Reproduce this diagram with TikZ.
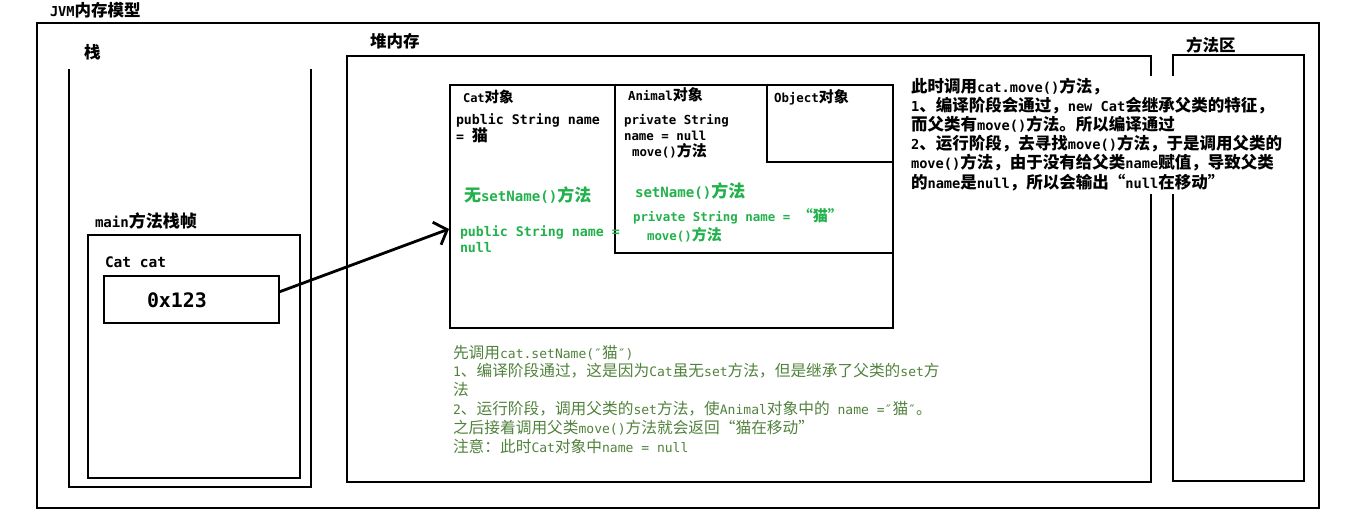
\documentclass[tikz,border=0pt]{standalone}
\usepackage{fontspec}
\setmainfont{DejaVu Sans Mono}[Scale=0.83]
\newfontfamily\cjk{Noto Sans CJK SC}
\usetikzlibrary{arrows.meta}
% automatic switching to the CJK family for CJK characters
\newXeTeXintercharclass\cjkclass
\count255="3000
\loop\XeTeXcharclass\count255=\cjkclass\advance\count255 by 1\relax\ifnum\count255<"A000\repeat
\count255="FF00
\loop\XeTeXcharclass\count255=\cjkclass\advance\count255 by 1\relax\ifnum\count255<"FFF0\repeat
\XeTeXcharclass"201C=\cjkclass
\XeTeXcharclass"201D=\cjkclass
\XeTeXinterchartoks 0 \cjkclass = {\cjk}
\XeTeXinterchartoks 4095 \cjkclass = {\cjk}
\XeTeXinterchartoks \cjkclass 0 = {\rmfamily}
\XeTeXinterchartoks \cjkclass 4095 = {\rmfamily}
\newcommand\fs[2]{\fontsize{#1}{#2}\selectfont}
\definecolor{boxgreen}{RGB}{34,177,76}
\definecolor{notegreen}{RGB}{80,130,60}
\tikzset{
  box/.style={draw, line width=2.8pt, inner sep=0pt, outer sep=0pt, anchor=north west},
  txt/.style={inner sep=0pt, outer sep=0pt, anchor=base west, align=left},
  blk/.style={txt, font=\bfseries\fs{#1}{#1}},
  grn/.style={txt, text=boxgreen, font=\bfseries\fs{#1}{#1}},
}
\begin{document}
\begin{tikzpicture}[x=1pt,y=-1pt]
\XeTeXinterchartokenstate=1
\useasboundingbox (0,0) rectangle (1352,531);
% containers
\node[box, minimum width=1282pt, minimum height=485pt] (jvm) at (37,23) {};
\draw[line width=2.8pt] (69,69) -- (69,487) -- (311,487) -- (311,69);
\node[box, minimum width=212pt, minimum height=243pt] (frame) at (88,235) {};
\node[box, minimum width=175pt, minimum height=47pt] (var) at (104,276) {};
\node[box, minimum width=804pt, minimum height=426pt] (heap) at (347,56) {};
\node[box, minimum width=131pt, minimum height=426pt] (method) at (1173,55) {};
\node[box, minimum width=443pt, minimum height=243pt] (catobj) at (450,85) {};
\node[box, minimum width=278pt, minimum height=168pt] (animobj) at (615,85) {};
\node[box, minimum width=126pt, minimum height=77pt] (objobj) at (767,85) {};
% reference arrow
\coordinate (tip) at (449,229);
\draw[line width=2.8pt, -{Straight Barb[length=11pt,width=24pt]}] ([yshift=7.5pt]var.east) -- (tip);
% labels (multi-line nodes: base = baseline of last line)
\node[blk=16.5] (title) at (50,16) {JVM内存模型};
\node[blk=16.5] (stacklbl) at (84,58) {栈};
\node[blk=16.5] (heaplbl) at (370,47) {堆内存};
\node[blk=16.5] (methlbl) at (1186,51) {方法区};
\node[blk=17] (mainlbl) at (95,227) {main方法栈帧};
\node[blk=17.5] (catcat) at (105,267) {Cat cat};
\node[blk=24] (addr) at (147,307) {0x123};
\node[blk=14.5] (catlbl) at (463,102) {Cat对象};
\node[txt, font=\bfseries\fs{16}{17}] (catfield) at (456,141) {public String name\\= 猫};
\node[blk=15] (animlbl) at (628,100) {Animal对象};
\node[txt, font=\bfseries\fs{15}{16}] (animfield) at (624,156) {private String\\name = null\\\hspace*{8pt}move()方法};
\node[blk=15] (objlbl) at (774,102) {Object对象};
\node[grn=17] (nosetname) at (464,201) {无setName()方法};
\node[grn=17] (setname) at (635,197) {setName()方法};
\node[txt, text=boxgreen, font=\bfseries\fs{15}{19}] (animset) at (633,240) {private String name = “猫”\\\hspace*{14pt}move()方法};
\node[txt, text=boxgreen, font=\bfseries\fs{16}{16}] (catnull) at (460,252) {public String name =\\null};
% explanation on the right
\fill[white] (903,76) rectangle (1299,194);
\node[txt, font=\bfseries\fs{16.5}{19.2}] (expl) at (911,188) {此时调用cat.move()方法，\\1、编译阶段会通过，new Cat会继承父类的特征，\\而父类有move()方法。所以编译通过\\2、运行阶段，去寻找move()方法，于是调用父类的\\move()方法，由于没有给父类name赋值，导致父类\\的name是null，所以会输出“null在移动”};
% note below
\node[txt, text=notegreen, font=\fs{15.7}{18.9}] (note) at (453,452.5) {先调用cat.setName(″猫″)\\1、编译阶段通过，这是因为Cat虽无set方法，但是继承了父类的set方\\法\\2、运行阶段，调用父类的set方法，使Animal对象中的 name =″猫″。\\之后接着调用父类move()方法就会返回“猫在移动”\\注意：此时Cat对象中name = null};
\end{tikzpicture}
\end{document}
